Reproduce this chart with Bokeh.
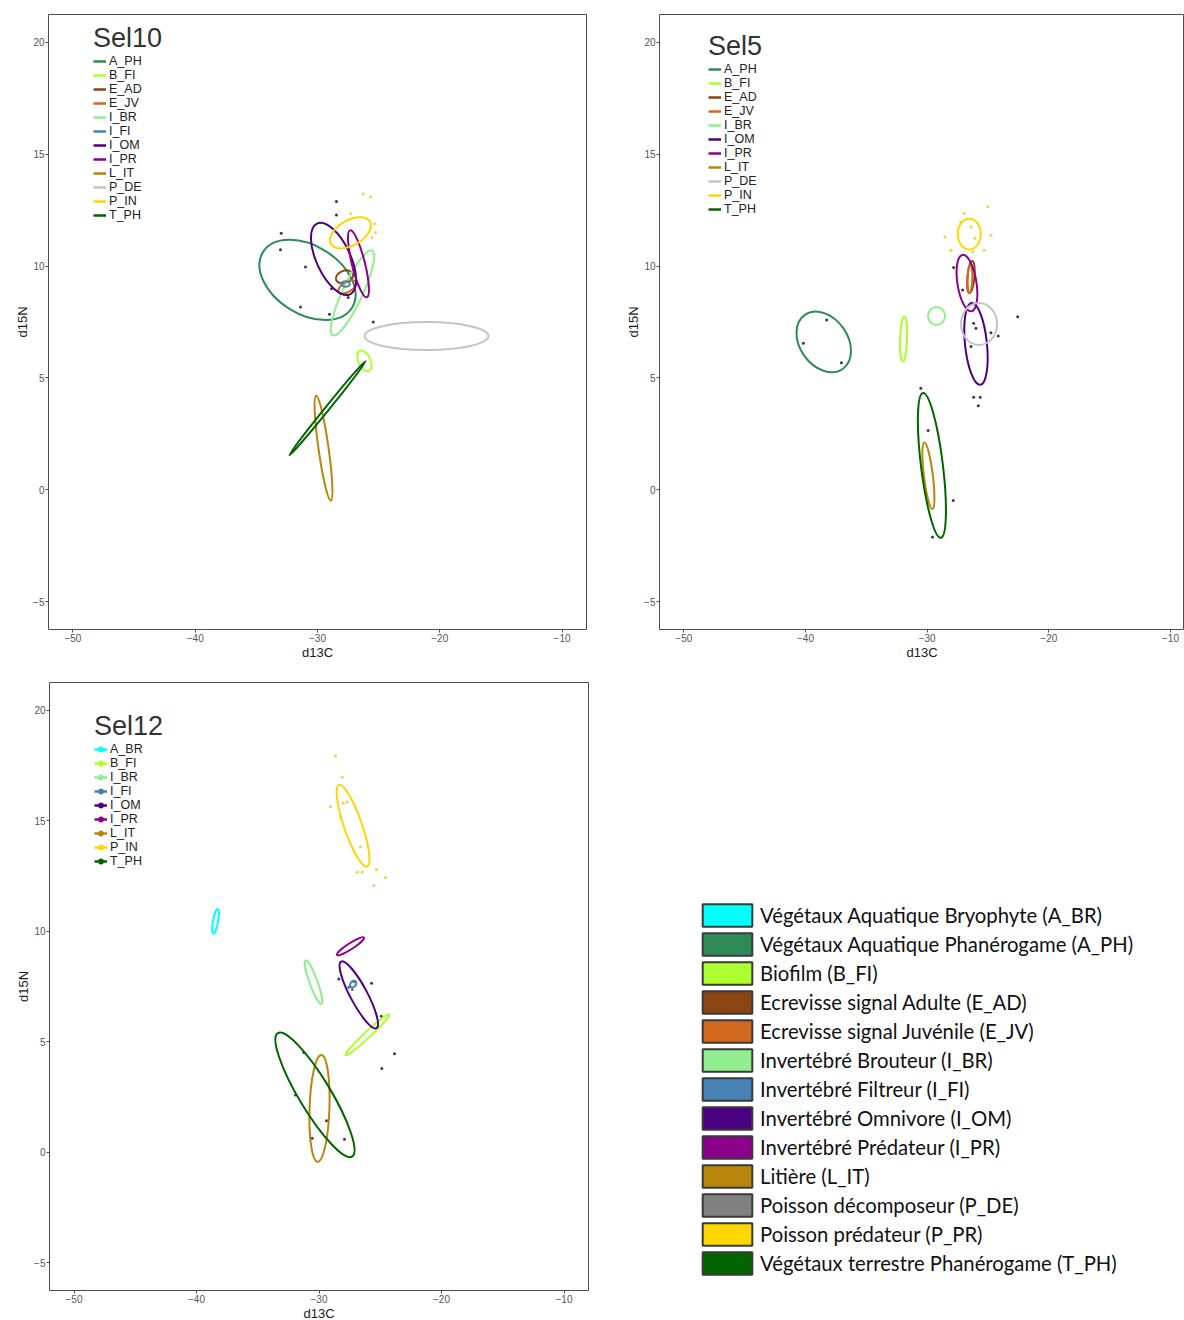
from bokeh.plotting import figure
from bokeh.layouts import row, column
from bokeh.models import Legend, LegendItem, FixedTicker, ColumnDataSource
from bokeh.embed import file_html
from bokeh.resources import INLINE

NAN = float("nan")

# ---------------- axes ----------------
X_TICKS = [-50, -40, -30, -20, -10]
X_TICK_LABELS = ["\u221250", "\u221240", "\u221230", "\u221220", "\u221210"]
Y_TICKS = [-5, 0, 5, 10, 15, 20]
Y_TICK_LABELS = ["\u22125", "0", "5", "10", "15", "20"]
X_LABEL = "d13C"
Y_LABEL = "d15N"

GROUP_COLORS = {
    "A_BR": "#00FFFF", "A_PH": "#2E8B57", "B_FI": "#ADFF2F", "E_AD": "#8B4513",
    "E_JV": "#D2691E", "I_BR": "#90EE90", "I_FI": "#4682B4", "I_OM": "#4B0082",
    "I_PR": "#8B008B", "L_IT": "#B8860B", "P_DE": "#C4C4C4", "P_IN": "#FFD700",
    "T_PH": "#006400",
}

# ---------------- Sel10 ----------------
sel10_groups = ["A_PH", "B_FI", "E_AD", "E_JV", "I_BR", "I_FI", "I_OM", "I_PR", "L_IT", "P_DE", "P_IN", "T_PH"]
sel10_cx = [-30.82, -26.16, -27.79, -27.55, -27.14, -27.70, -28.69, -26.65, -29.51, -21.08, -27.30, -29.18]
sel10_cy = [9.38, 5.76, 9.52, 9.07, 8.80, 9.20, 10.32, 10.10, 1.86, 6.87, 11.49, 3.65]
sel10_w = [8.59, 1.80, 1.47, 1.64, 7.65, 0.70, 6.38, 5.64, 8.67, 10.14, 3.68, 9.90]
sel10_h = [3.05, 0.54, 0.54, 0.45, 0.90, 0.25, 1.52, 0.58, 0.45, 1.25, 1.12, 0.18]
sel10_angle = [-32, -65, 20, 30, 65, 0, -65, -76, -82, 0, 30, 51]
sel10_pt_x = [-28.45, -28.45, -32.97, -33.03, -30.98, -31.39, -29.02, -28.85, -27.49, -25.44,
              -26.26, -25.66, -25.34, -25.26, -25.53, -27.30]
sel10_pt_y = [12.89, 12.29, 11.47, 10.73, 9.96, 8.17, 7.85, 8.99, 8.59, 7.50,
              13.22, 13.10, 11.89, 11.50, 11.28, 12.34]
sel10_pt_g = ["I_OM", "I_OM", "A_PH", "A_PH", "A_PH", "A_PH", "A_PH", "I_OM", "I_PR", "P_DE",
              "P_IN", "P_IN", "P_IN", "P_IN", "P_IN", "P_IN"]

# ---------------- Sel5 ----------------
sel5_groups = ["A_PH", "B_FI", "E_AD", "E_JV", "I_BR", "I_OM", "I_PR", "L_IT", "P_DE", "P_IN", "T_PH"]
sel5_cx = [-38.50, -31.94, -26.40, -26.49, -29.23, -25.99, -26.73, -29.90, -25.74, -26.54, -29.61]
sel5_cy = [6.61, 6.74, 9.51, 9.42, 7.77, 6.52, 9.24, 0.62, 7.41, 11.43, 1.09]
sel5_w = [5.43, 3.70, 2.63, 2.30, 1.40, 6.75, 4.69, 5.51, 2.96, 1.89, 12.0]
sel5_h = [2.14, 0.31, 0.31, 0.22, 0.80, 0.98, 0.85, 0.40, 1.88, 1.38, 0.98]
sel5_angle = [-55, 88, 85, 88, 0, -84, -81, -83, 0, 0, -83]
sel5_pt_x = [-38.26, -40.17, -37.05, -30.52, -29.92, -27.86, -29.56, -26.18, -25.64, -25.80,
             -26.40, -24.76, -26.18, -25.99, -27.83, -27.09, -24.16, -22.56,
             -28.54, -28.05, -26.95, -25.03, -24.76, -25.31, -26.26, -26.40, -26.07, -27.23]
sel5_pt_y = [7.59, 6.55, 5.68, 4.54, 2.65, -0.48, -2.11, 4.14, 4.14, 3.75,
             6.40, 7.02, 7.44, 7.22, 9.94, 8.93, 6.87, 7.74,
             11.31, 10.71, 12.35, 12.65, 11.38, 10.71, 10.64, 11.75, 11.24, 11.96]
sel5_pt_g = ["A_PH", "A_PH", "A_PH", "T_PH", "T_PH", "T_PH", "T_PH", "I_OM", "I_OM", "I_OM",
             "I_OM", "P_DE", "I_OM", "I_OM", "I_PR", "I_PR", "P_DE", "P_DE",
             "P_IN", "P_IN", "P_IN", "P_IN", "P_IN", "P_IN", "P_IN", "P_IN", "P_IN", "P_IN"]

# ---------------- Sel12 ----------------
sel12_groups = ["A_BR", "B_FI", "I_BR", "I_FI", "I_OM", "I_PR", "L_IT", "P_IN", "T_PH"]
sel12_cx = [-38.45, -26.04, -30.45, -27.21, -26.75, -27.43, -29.96, -27.22, -30.33]
sel12_cy = [10.45, 5.32, 7.70, 7.61, 7.12, 9.32, 1.99, 14.77, 2.60]
sel12_w = [2.04, 4.90, 3.76, 0.60, 6.16, 2.61, 8.73, 7.06, 11.76]
sel12_h = [0.23, 0.27, 0.36, 0.25, 0.77, 0.27, 0.90, 0.81, 1.44]
sel12_angle = [80, 43, -70, 50, -62, 33, 88, -71, -59]
sel12_pt_x = [-28.65, -28.11, -29.06, -28.02, -27.70, -28.24, -26.61, -26.88, -26.47, -25.31, -24.57, -25.53,
              -28.38, -25.71, -27.57, -27.16, -27.29, -24.92, -23.84, -24.87, -31.24, -31.92, -29.39, -27.92, -30.56]
sel12_pt_y = [17.92, 16.96, 15.64, 15.79, 15.86, 15.16, 13.81, 12.67, 12.67, 12.79, 12.42, 12.07,
              7.84, 7.65, 7.47, 7.72, 7.36, 6.16, 4.46, 3.79, 4.51, 2.59, 1.43, 0.59, 0.64]
sel12_pt_g = ["P_IN"] * 12 + ["I_OM", "I_OM", "I_FI", "I_FI", "I_FI", "I_OM", "I_OM", "I_OM",
                             "T_PH", "T_PH", "L_IT", "T_PH", "L_IT"]

# ---------------- big legend ----------------
BIG_LABELS = [
    "Végétaux Aquatique Bryophyte (A_BR)",
    "Végétaux Aquatique Phanérogame (A_PH)",
    "Biofilm (B_FI)",
    "Ecrevisse signal Adulte (E_AD)",
    "Ecrevisse signal Juvénile (E_JV)",
    "Invertébré Brouteur (I_BR)",
    "Invertébré Filtreur (I_FI)",
    "Invertébré Omnivore (I_OM)",
    "Invertébré Prédateur (I_PR)",
    "Litière (L_IT)",
    "Poisson décomposeur (P_DE)",
    "Poisson prédateur (P_PR)",
    "Végétaux terrestre Phanérogame (T_PH)",
]
BIG_COLORS = ["#00FFFF", "#2E8B57", "#ADFF2F", "#8B4513", "#D2691E", "#90EE90", "#4682B4",
              "#4B0082", "#8B008B", "#B8860B", "#808080", "#FFD700", "#006400"]

FONT = "Liberation Sans"


def point_color(g):
    if g == "P_IN":
        return "#F0D24A"
    if g == "I_FI":
        return "#4A6FB0"
    return "#3A3A4E"


def panel(name, groups, cx, cy, w, h, ang, ptx, pty, ptg, fw, fh, xr,
          bl, br, bt, bb, leg_xy, dots=False):
    p = figure(frame_width=fw, frame_height=fh, x_range=xr, y_range=(-6.25, 21.25),
               min_border_left=bl, min_border_right=br, min_border_top=bt, min_border_bottom=bb,
               output_backend="svg", toolbar_location=None,
               background_fill_color="white", border_fill_color="white")
    p.grid.visible = False
    p.outline_line_color = "#4d4d4d"
    p.outline_line_width = 1
    p.outline_line_alpha = 1
    p.xaxis.ticker = FixedTicker(ticks=X_TICKS)
    p.yaxis.ticker = FixedTicker(ticks=Y_TICKS)
    p.xaxis.major_label_overrides = dict(zip(X_TICKS, X_TICK_LABELS))
    p.yaxis.major_label_overrides = dict(zip(Y_TICKS, Y_TICK_LABELS))
    p.axis.axis_line_color = None
    p.axis.major_tick_line_color = "#4d4d4d"
    p.axis.major_tick_out = 3
    p.axis.major_tick_in = 0
    p.axis.minor_tick_line_color = None
    p.axis.major_label_text_font = FONT
    p.axis.major_label_text_font_size = "10px"
    p.axis.major_label_text_color = "#555555"
    p.axis.major_label_standoff = 1
    p.axis.axis_label_text_font = FONT
    p.axis.axis_label_text_font_style = "normal"
    p.axis.axis_label_text_font_size = "13px"
    p.axis.axis_label_text_color = "#1a1a1a"
    p.axis.axis_label_standoff = 0
    p.xaxis.axis_label = X_LABEL
    p.yaxis.axis_label = Y_LABEL

    p.scatter(x=ptx, y=pty, size=3, line_width=0, fill_color=[point_color(g) for g in ptg])

    src = ColumnDataSource(dict(x=cx, y=cy, w=w, h=h, a=ang,
                                c=[GROUP_COLORS[g] for g in groups]))
    p.ellipse(x="x", y="y", width="w", height="h", angle="a", angle_units="deg",
              fill_alpha=0, line_color="c", line_width=2, source=src)

    items = []
    for g in groups:
        rs = [p.line(x=[NAN, NAN], y=[NAN, NAN], line_color=GROUP_COLORS[g], line_width=2.5)]
        if dots:
            rs.append(p.scatter(x=[NAN], y=[NAN], size=4, color=GROUP_COLORS[g]))
        items.append(LegendItem(label=g, renderers=rs))
    leg = Legend(items=items, location=leg_xy, title=name,
                 title_text_font=FONT, title_text_font_size="27px", title_text_color="#333333",
                 title_text_font_style="normal", title_standoff=0,
                 label_text_font=FONT, label_text_font_size="12.5px", label_text_color="#222222",
                 glyph_width=13, glyph_height=14, label_height=14, label_standoff=3, spacing=0,
                 padding=2, margin=0, border_line_color=None, background_fill_alpha=0)
    p.add_layout(leg)
    return p


f1 = panel("Sel10", sel10_groups, sel10_cx, sel10_cy, sel10_w, sel10_h, sel10_angle,
           sel10_pt_x, sel10_pt_y, sel10_pt_g, 538, 615, (-52, -8), 48, 33, 14, 47, (45, 407))
f2 = panel("Sel5", sel5_groups, sel5_cx, sel5_cy, sel5_w, sel5_h, sel5_angle,
           sel5_pt_x, sel5_pt_y, sel5_pt_g, 525, 615, (-52, -8.85), 40, 0, 14, 47, (49, 413))
f3 = panel("Sel12", sel12_groups, sel12_cx, sel12_cy, sel12_w, sel12_h, sel12_angle,
           sel12_pt_x, sel12_pt_y, sel12_pt_g, 539, 608, (-52, -8), 49, 31, 6, 30, (45, 422),
           dots=True)

f4 = figure(width=565, height=644, x_range=(0, 1), y_range=(0, 1),
            x_axis_location=None, y_axis_location=None,
            min_border_left=0, min_border_right=0, min_border_top=0, min_border_bottom=0,
            output_backend="svg", toolbar_location=None, outline_line_color=None)
f4.grid.visible = False
big_items = []
for lab, col in zip(BIG_LABELS, BIG_COLORS):
    r = f4.rect(x=[NAN], y=[NAN], width=1, height=1, fill_color=col, line_color="#3a3a3a", line_width=2)
    big_items.append(LegendItem(label=lab, renderers=[r]))
big_leg = Legend(items=big_items, location=(77, 10),
                 label_text_font="Lato", label_text_font_size="20.3px", label_text_color="#111111",
                 glyph_width=62, glyph_height=28, label_height=22, label_standoff=2, spacing=1,
                 padding=0, margin=0, border_line_color=None, background_fill_alpha=0)
f4.add_layout(big_leg)

layout = column(row(f1, f2), row(f3, f4))
open("out.html", "w").write(file_html(layout, INLINE))
